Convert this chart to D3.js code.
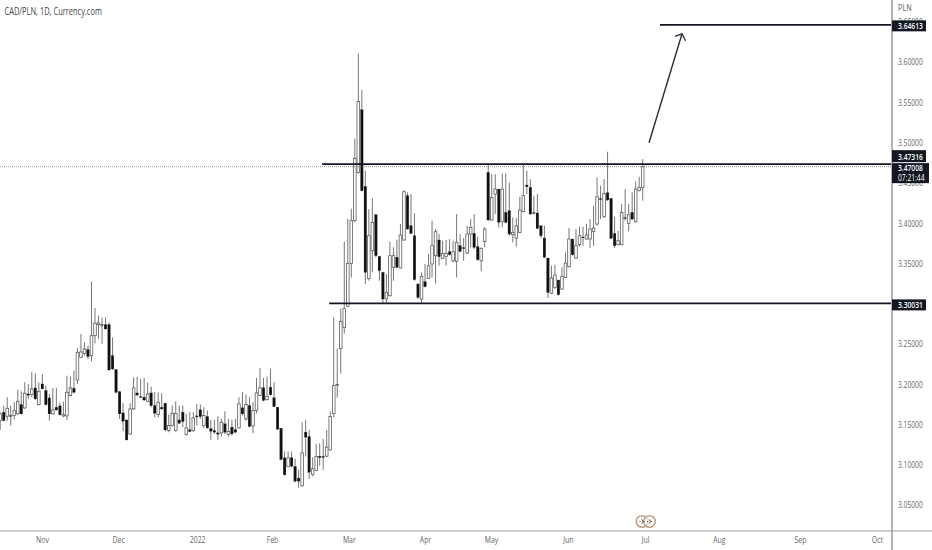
<!DOCTYPE html>
<html>
<head>
<meta charset="utf-8">
<script src="https://cdn.jsdelivr.net/npm/d3@7"></script>
<style>
  html, body { margin: 0; padding: 0; background: #fff; overflow: hidden; }
  text { font-family: "Open Sans", sans-serif; }
</style>
</head>
<body>
<div id="chart"></div>
<script>
// daily candles
let opens = [
  3.1548,3.1651,3.1602,3.1610,3.1610,3.1631,3.1746,3.1705,3.1879,3.1870,
  3.1953,3.1746,3.2003,3.1920,3.1829,3.1631,3.1713,3.1730,3.1606,3.1606,
  3.1858,3.1949,3.2052,3.2334,3.2383,3.2429,3.2354,3.2602,3.2739,3.2739,
  3.2739,3.2739,3.2354,3.2181,3.1908,3.1643,3.1556,3.1382,3.1693,3.1891,
  3.1846,3.1837,3.1788,3.1891,3.1734,3.1622,3.1713,3.1763,3.1424,3.1486,
  3.1424,3.1556,3.1652,3.1375,3.1433,3.1424,3.1606,3.1681,3.1486,3.1598,
  3.1449,3.1424,3.1395,3.1395,3.1507,3.1375,3.1466,3.1437,3.1457,3.1706,
  3.1569,3.1735,3.1482,3.1673,3.1859,3.1954,3.1809,3.1962,3.1830,3.1714,
  3.1453,3.1085,3.0978,3.1085,3.0978,3.0833,3.0738,3.1404,3.1350,3.0878,
  3.0928,3.1106,3.1102,3.1106,3.1184,3.1635,3.1990,3.2442,3.2702,3.2967,
  3.3500,3.4030,3.4629,3.5407,3.4456,3.3314,3.3657,3.4104,3.3587,3.3388,
  3.3058,3.3099,3.3450,3.3575,3.3442,3.3790,3.4340,3.3968,3.3843,3.3244,
  3.3058,3.3273,3.3314,3.3492,3.3595,3.3790,3.3562,3.3587,3.3645,3.3533,
  3.3525,3.3719,3.3694,3.3628,3.3864,3.3872,3.3707,3.3533,3.3773,3.4629,
  3.4038,3.4360,3.4422,3.4017,3.4133,3.4154,3.3856,3.3814,3.3885,3.4145,
  3.4472,3.4443,3.4129,3.4125,3.3967,3.3814,3.3566,3.3128,3.3202,3.3293,
  3.3181,3.3326,3.3459,3.3802,3.3566,3.3732,3.3827,3.3802,3.3802,3.3897,
  3.3988,3.4302,3.4079,3.4377,3.4306,3.3872,3.3732,3.3732,3.4067,3.3996,
  3.4133,3.4017,3.4402,3.4443
];
let highs = [
  3.1651,3.1734,3.1837,3.1734,3.1775,3.1932,3.1912,3.2023,3.2003,3.2148,
  3.2135,3.2023,3.2127,3.1982,3.1879,3.1953,3.1953,3.1775,3.1784,3.2106,
  3.2094,3.2168,3.2449,3.2623,3.2520,3.2478,3.3273,3.2946,3.2851,3.2830,
  3.2830,3.2768,3.2582,3.2189,3.1912,3.1763,3.1560,3.1763,3.2085,3.2094,
  3.2065,3.2077,3.2023,3.1970,3.1899,3.1899,3.1887,3.1770,3.1622,3.1734,
  3.1788,3.1734,3.1735,3.1631,3.1652,3.1652,3.1755,3.1747,3.1714,3.1673,
  3.1557,3.1557,3.1602,3.1569,3.1664,3.1569,3.1557,3.1569,3.1838,3.1900,
  3.1871,3.1838,3.1776,3.2078,3.2202,3.2078,3.2094,3.2190,3.2024,3.1718,
  3.1457,3.1164,3.1164,3.1164,3.1073,3.0936,3.1528,3.1557,3.1433,3.1093,
  3.1259,3.1267,3.1321,3.1433,3.1664,3.2830,3.2442,3.2938,3.3769,3.4055,
  3.4179,3.5047,3.6105,3.5655,3.4650,3.4174,3.4311,3.4112,3.3591,3.3392,
  3.3368,3.3769,3.3699,3.3794,3.3988,3.4410,3.4381,3.4360,3.4121,3.3248,
  3.3388,3.3492,3.3616,3.4030,3.3926,3.3864,3.3781,3.3790,3.3802,3.3781,
  3.4112,3.3864,3.3814,3.3967,3.4050,3.4112,3.3831,3.3699,3.3947,3.4733,
  3.4608,3.4608,3.4426,3.4617,3.4617,3.4505,3.4071,3.4062,3.4327,3.4733,
  3.4650,3.4546,3.4340,3.4360,3.3971,3.3967,3.3570,3.3471,3.3483,3.3297,
  3.3450,3.3636,3.3938,3.3806,3.3926,3.3955,3.3955,3.3988,3.4050,3.4215,
  3.4567,3.4464,3.4546,3.4886,3.4310,3.4079,3.3905,3.4236,3.4422,3.4236,
  3.4381,3.4517,3.4575,3.4795
];
let lows = [
  3.1432,3.1540,3.1548,3.1486,3.1560,3.1622,3.1622,3.1693,3.1817,3.1837,
  3.1804,3.1734,3.1941,3.1734,3.1548,3.1622,3.1672,3.1610,3.1589,3.1556,
  3.1846,3.1887,3.2003,3.2325,3.2354,3.2313,3.2284,3.2507,3.2561,3.2499,
  3.2680,3.2168,3.2176,3.1887,3.1568,3.1415,3.1300,3.1374,3.1680,3.1846,
  3.1829,3.1788,3.1775,3.1713,3.1589,3.1589,3.1680,3.1415,3.1403,3.1473,
  3.1411,3.1507,3.1466,3.1362,3.1404,3.1404,3.1486,3.1569,3.1457,3.1445,
  3.1309,3.1383,3.1309,3.1350,3.1383,3.1350,3.1362,3.1391,3.1445,3.1610,
  3.1548,3.1466,3.1391,3.1639,3.1850,3.1788,3.1797,3.1859,3.1714,3.1433,
  3.1052,3.0866,3.0969,3.0969,3.0783,3.0713,3.0730,3.1102,3.0825,3.0854,
  3.0920,3.0990,3.0936,3.1093,3.1176,3.1589,3.1834,3.2132,3.2628,3.2954,
  3.3323,3.4009,3.4613,3.4393,3.3244,3.3285,3.3388,3.3575,3.3285,3.2996,
  3.2996,3.3087,3.3285,3.3442,3.3438,3.3781,3.3918,3.3864,3.3285,3.3058,
  3.2996,3.3202,3.3306,3.3326,3.3248,3.3471,3.3554,3.3471,3.3595,3.3512,
  3.3326,3.3637,3.3533,3.3616,3.3699,3.3678,3.3533,3.3401,3.3699,3.4029,
  3.4029,3.4112,3.3947,3.3947,3.3996,3.3843,3.3761,3.3707,3.3872,3.4133,
  3.4360,3.4104,3.4112,3.3926,3.3814,3.3566,3.3070,3.3119,3.3181,3.3099,
  3.3169,3.3318,3.3450,3.3595,3.3554,3.3711,3.3719,3.3794,3.3690,3.3719,
  3.3967,3.4050,3.4062,3.4278,3.3802,3.3690,3.3723,3.3727,3.4029,3.3897,
  3.4038,3.4009,3.4393,3.4278
];
let closes = [
  3.1631,3.1548,3.1701,3.1602,3.1672,3.1788,3.1631,3.1887,3.1862,3.1941,
  3.1817,3.1912,3.1941,3.1746,3.1631,3.1680,3.1680,3.1622,3.1622,3.1899,
  3.1953,3.1899,3.2396,3.2400,3.2437,3.2342,3.2602,3.2756,3.2760,3.2735,
  3.2685,3.2176,3.2189,3.1899,3.1631,3.1540,3.1308,3.1693,3.1953,3.1866,
  3.1837,3.1804,3.1879,3.1734,3.1639,3.1775,3.1693,3.1432,3.1486,3.1639,
  3.1639,3.1515,3.1536,3.1457,3.1412,3.1582,3.1594,3.1598,3.1610,3.1457,
  3.1416,3.1404,3.1379,3.1528,3.1404,3.1412,3.1383,3.1404,3.1755,3.1631,
  3.1747,3.1474,3.1673,3.1892,3.1954,3.1797,3.1850,3.1867,3.1722,3.1441,
  3.1065,3.0874,3.1085,3.0982,3.0796,3.0796,3.1147,3.1342,3.0907,3.0949,
  3.1102,3.1089,3.1089,3.1218,3.1598,3.1983,3.1998,3.2780,3.2938,3.3500,
  3.4030,3.4803,3.5510,3.4402,3.3388,3.3843,3.4009,3.3595,3.3409,3.3058,
  3.3140,3.3595,3.3595,3.3450,3.3852,3.4389,3.3926,3.3872,3.3298,3.3078,
  3.3339,3.3211,3.3471,3.3719,3.3893,3.3583,3.3624,3.3624,3.3608,3.3645,
  3.3761,3.3649,3.3686,3.3864,3.3947,3.3699,3.3546,3.3686,3.3926,3.4038,
  3.4319,3.4422,3.4009,3.4422,3.4009,3.3864,3.3885,3.3967,3.4162,3.4340,
  3.4451,3.4112,3.4120,3.3934,3.3843,3.3575,3.3140,3.3318,3.3355,3.3111,
  3.3335,3.3504,3.3802,3.3607,3.3719,3.3843,3.3818,3.3852,3.3926,3.3938,
  3.4327,3.4294,3.4369,3.4286,3.3810,3.3719,3.3781,3.4133,3.4058,3.4104,
  3.4050,3.4422,3.4443,3.4700
];

let priceTicks = [3.05,3.10,3.15,3.20,3.25,3.30,3.35,3.40,3.45,3.50,3.55,3.60,3.65];
let timeLabels = ["Nov","Dec","2022","Feb","Mar","Apr","May","Jun","Jul","Aug","Sep","Oct"];
let timeTicks = [11.9,33.6,56.1,77.4,99.3,121,139.8,161.7,183.7,204.7,227.8,249.7];

// drawn levels: [price, first bar]
let levels = [[3.64613,187.9],[3.47316,91.7],[3.30031,93.7]];
let lastPrice = 3.47008;
let countdown = "07:21:44";
let arrowBars = [184.8,194.2];
let arrowPrices = [3.4998,3.6350];

let width = 932, height = 550, axisX = 892, axisY = 531;

let x = d3.scaleLinear().domain([0,183]).range([0.2,642.7]);
let y = d3.scaleLinear().domain([3.05,3.60]).range([505,62]);

let svg = d3.select("#chart").append("svg")
  .attr("width", width)
  .attr("height", height)
  .style("display", "block");

// squeeze a text to the narrow look of the screenshot
function squeeze(sel, ratio) {
  sel.each(function () {
    let len = this.getComputedTextLength();
    d3.select(this).attr("textLength", len * ratio).attr("lengthAdjust", "spacingAndGlyphs");
  });
}

let bars = svg.append("g").selectAll("g").data(d3.range(opens.length)).join("g");

bars.append("line")
  .attr("x1", i => x(i)).attr("x2", i => x(i))
  .attr("y1", i => y(highs[i])).attr("y2", i => y(lows[i]))
  .attr("stroke", "#767676")
  .attr("stroke-width", 1);

bars.append("rect")
  .attr("x", i => x(i) - 1.3)
  .attr("width", 2.6)
  .attr("y", i => y(Math.max(opens[i], closes[i])))
  .attr("height", i => Math.max(0.8, Math.abs(y(opens[i]) - y(closes[i]))))
  .attr("fill", i => closes[i] >= opens[i] ? "#fff" : "#111")
  .attr("stroke", i => closes[i] >= opens[i] ? "#5e5e5e" : "#111")
  .attr("stroke-width", i => closes[i] >= opens[i] ? 0.8 : 0.2);

// last price dotted line
svg.append("line")
  .attr("x1", 0).attr("x2", axisX)
  .attr("y1", y(lastPrice)).attr("y2", y(lastPrice))
  .attr("stroke", "#777")
  .attr("stroke-width", 0.8)
  .attr("stroke-dasharray", "1,1");

svg.append("g").selectAll("line").data(levels).join("line")
  .attr("x1", d => x(d[1])).attr("x2", axisX)
  .attr("y1", d => y(d[0])).attr("y2", d => y(d[0]))
  .attr("stroke", "#131722")
  .attr("stroke-width", 1.8);

// arrow
let ax0 = x(arrowBars[0]), ay0 = y(arrowPrices[0]), ax1 = x(arrowBars[1]), ay1 = y(arrowPrices[1]);
let arrowG = svg.append("g").attr("stroke", "#2a2e39").attr("stroke-width", 1.4).attr("fill", "none");
arrowG.append("line").attr("x1", ax0).attr("y1", ay0).attr("x2", ax1).attr("y2", ay1);
arrowG.append("path").attr("d", d3.line()([[ax1 - 7, ay1 + 2.5],[ax1, ay1],[ax1 + 3.5, ay1 + 7]]));

// axes frame
svg.append("line").attr("x1", axisX).attr("x2", axisX).attr("y1", 0).attr("y2", height)
  .attr("stroke", "#b4b4b4").attr("stroke-width", 2);
svg.append("line").attr("x1", 0).attr("x2", width).attr("y1", axisY).attr("y2", axisY)
  .attr("stroke", "#9a9a9a").attr("stroke-width", 1);

let yAxis = d3.axisRight(y).tickValues(priceTicks).tickFormat(d3.format(".5f")).tickSize(0).tickPadding(0);
let yG = svg.append("g").attr("transform", `translate(${axisX + 6},0)`).call(yAxis);
yG.select(".domain").remove();
yG.selectAll("text").attr("fill", "#666").style("font-size", "9.2px").style("font-family", "'Open Sans', sans-serif").call(squeeze, 0.73);

let xAxis = d3.axisBottom(x).tickValues(timeTicks).tickFormat((d, i) => timeLabels[i]).tickSize(0).tickPadding(0);
let xG = svg.append("g").attr("transform", `translate(0,${axisY + 5.5})`).call(xAxis);
xG.select(".domain").remove();
xG.selectAll("text").attr("fill", "#666").style("font-size", "9.2px").style("font-family", "'Open Sans', sans-serif").call(squeeze, 0.75);

// title and currency
svg.append("text").attr("x", 4.5).attr("y", 14.5).attr("fill", "#444").attr("font-size", 10.5)
  .text("CAD/PLN, 1D, Currency.com").call(squeeze, 0.71);
svg.append("text").attr("x", 898).attr("y", 11).attr("fill", "#666").attr("font-size", 9.2)
  .text("PLN").call(squeeze, 0.8);

// price tags
function tag(boxY, boxH, boxW, lines) {
  svg.append("rect").attr("x", axisX).attr("y", boxY).attr("width", boxW).attr("height", boxH).attr("fill", "#131722");
  lines.forEach(function (l) {
    svg.append("text").attr("x", axisX + 6).attr("y", boxY + l[1]).attr("fill", "#fff")
      .attr("font-size", 9.2).attr("font-weight", l[2] || 600).text(l[0]).call(squeeze, 0.73);
  });
}
tag(y(levels[0][0]) - 4.5, 11, 34, [[d3.format(".5f")(levels[0][0]), 8.8]]);
tag(y(levels[2][0]) - 4, 11, 34, [[d3.format(".5f")(levels[2][0]), 8.8]]);
tag(y(lastPrice) - 3.5, 20, 37, [[d3.format(".5f")(lastPrice), 8.2], [countdown, 17.4, 400]]);
tag(y(levels[1][0]) - 14, 12, 34, [[d3.format(".5f")(levels[1][0]), 9.4]]);

// small logo above the Jul label
let logo = svg.append("g").attr("transform", "translate(0,521.5)");
logo.selectAll("circle").data([642,649.5]).join("circle")
  .attr("cx", d => d).attr("cy", 0).attr("r", 5.8)
  .attr("fill", "#fff").attr("fill-opacity", 0.55).attr("stroke", "#c49f84").attr("stroke-width", 1.6);
logo.selectAll("path").data([642,649.5]).join("path")
  .attr("d", d => `M${d - 2.5},0H${d - 1.2}M${d + 1.2},0H${d + 2.5}M${d - 0.4},-2.2L${d + 1.2},0L${d - 0.4},2.2`)
  .attr("fill", "none").attr("stroke", "#6e4e3c").attr("stroke-width", 1);
</script>
</body>
</html>
